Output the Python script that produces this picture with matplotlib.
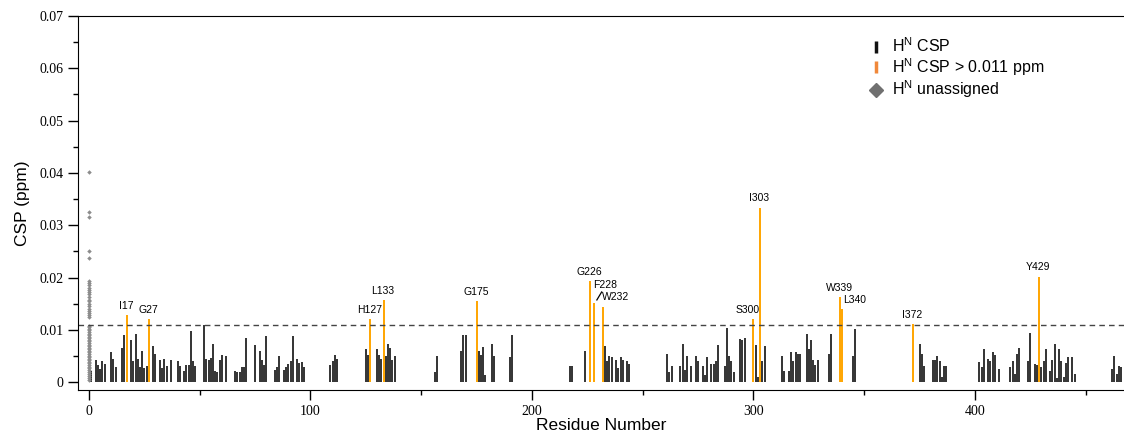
import numpy as np
import matplotlib
matplotlib.use('Agg')
import matplotlib.pyplot as plt
import matplotlib.transforms as mtransforms
from matplotlib.lines import Line2D
from matplotlib.ticker import MultipleLocator, FuncFormatter

# residues below the threshold (black bars)
black_res = [1, 3, 4, 5, 6, 7, 10, 11, 12, 15, 16,
             19, 20, 21, 22, 23, 24, 25, 26, 29, 30, 32, 33, 34, 35, 37, 40, 41,
             43, 44, 45, 46, 47, 48, 52, 53, 54, 55, 56, 57, 58, 59, 60, 62,
             66, 67, 68, 69, 70, 71, 75, 77, 78, 79, 80, 84, 85, 86,
             88, 89, 90, 91, 92, 94, 95, 96, 97, 109, 110, 111, 112,
             125, 126, 130, 131, 132, 134, 135, 136, 137, 138, 156, 157,
             168, 169, 170, 176, 177, 178, 179, 182, 183, 190, 191,
             217, 218, 224, 233, 234, 235, 236, 238, 239, 240, 241, 243, 244,
             261, 262, 263, 267, 268, 269, 270, 272, 274, 275, 277, 278, 279,
             281, 282, 283, 284, 287, 288, 289, 290, 291, 294, 295, 296,
             301, 302, 304, 305, 313, 314, 316, 317, 318, 319, 320, 321,
             324, 325, 326, 327, 328, 329, 334, 335, 345, 346,
             375, 376, 377, 381, 382, 383, 384, 385, 386, 387,
             402, 403, 404, 406, 407, 408, 409, 411, 416, 417, 418, 419, 420,
             424, 425, 427, 428, 430, 431, 432, 434, 435, 436, 437, 438, 439,
             440, 441, 442, 444, 445, 462, 463, 464, 465, 466]
black_csp = [0.0022, 0.0042, 0.0033, 0.0025, 0.0040, 0.0035, 0.0058, 0.0044, 0.0030, 0.0066, 0.0090,
             0.0080, 0.0040, 0.0092, 0.0045, 0.0030, 0.0060, 0.0028, 0.0031, 0.0069, 0.0055,
             0.0043, 0.0028, 0.0045, 0.0031, 0.0042, 0.0040, 0.0031,
             0.0021, 0.0033, 0.0033, 0.0098, 0.0040, 0.0032, 0.0110, 0.0045, 0.0043, 0.0047,
             0.0073, 0.0021, 0.0019, 0.0042, 0.0052, 0.0050,
             0.0022, 0.0020, 0.0020, 0.0030, 0.0030, 0.0084, 0.0072, 0.0060, 0.0043, 0.0033,
             0.0089, 0.0023, 0.0030, 0.0050,
             0.0024, 0.0030, 0.0035, 0.0040, 0.0089, 0.0044, 0.0036, 0.0038, 0.0029,
             0.0033, 0.0041, 0.0052, 0.0044,
             0.0063, 0.0052, 0.0064, 0.0052, 0.0045, 0.0050, 0.0073, 0.0065, 0.0043, 0.0050,
             0.0020, 0.0050,
             0.0060, 0.0090, 0.0090, 0.0060, 0.0052, 0.0067, 0.0013, 0.0073, 0.0050, 0.0048, 0.0090,
             0.0031, 0.0031, 0.0060, 0.0069, 0.0041, 0.0050, 0.0048, 0.0043, 0.0027, 0.0049,
             0.0043, 0.0041, 0.0035,
             0.0054, 0.0020, 0.0031, 0.0031, 0.0073, 0.0024, 0.0050, 0.0031, 0.0050, 0.0041,
             0.0031, 0.0014, 0.0049,
             0.0035, 0.0034, 0.0041, 0.0071, 0.0031, 0.0104, 0.0050, 0.0041, 0.0020,
             0.0082, 0.0080, 0.0085,
             0.0071, 0.0010, 0.0041, 0.0069, 0.0050, 0.0022, 0.0022, 0.0058, 0.0041, 0.0057,
             0.0054, 0.0054,
             0.0092, 0.0064, 0.0081, 0.0043, 0.0033, 0.0043, 0.0054, 0.0092, 0.0050, 0.0101,
             0.0073, 0.0054, 0.0031, 0.0043, 0.0043, 0.0050, 0.0041, 0.0010, 0.0032, 0.0032,
             0.0038, 0.0030, 0.0064, 0.0044, 0.0041, 0.0058, 0.0052, 0.0025, 0.0030, 0.0041,
             0.0015, 0.0055, 0.0065,
             0.0041, 0.0095, 0.0034, 0.0033, 0.0029, 0.0041, 0.0064, 0.0021, 0.0043, 0.0074,
             0.0009, 0.0064, 0.0041,
             0.0010, 0.0036, 0.0049, 0.0048, 0.0015, 0.0025, 0.0050, 0.0016, 0.0031, 0.0030]

# residues above 0.011 ppm (orange, labelled)
hi_res = [17, 27, 127, 133, 175, 226, 228, 232, 300, 303, 339, 340, 372, 429]
hi_csp = [0.0128, 0.0120, 0.0120, 0.0157, 0.0155, 0.0194, 0.0152, 0.0143,
          0.0120, 0.0334, 0.0163, 0.0140, 0.0111, 0.0202]
hi_labels = ['I17', 'G27', 'H127', 'L133', 'G175', 'G226', 'F228', 'W232',
             'S300', 'I303', 'W339', 'L340', 'I372', 'Y429']

# unassigned peaks, all drawn at residue 0
unassigned = [0.0402, 0.0326, 0.0315, 0.0250, 0.0237,
              0.0193, 0.0189, 0.0185, 0.0181, 0.0177, 0.0172, 0.0168, 0.0163, 0.0158,
              0.0155, 0.0150, 0.0146, 0.0141, 0.0137, 0.0133, 0.0128, 0.0125,
              0.0108, 0.0105, 0.0102, 0.0099, 0.0096, 0.0093, 0.0090, 0.0087, 0.0084,
              0.0081, 0.0078, 0.0075, 0.0072, 0.0069, 0.0066, 0.0063, 0.0060, 0.0057,
              0.0054, 0.0051, 0.0048, 0.0045, 0.0042, 0.0039, 0.0036, 0.0033, 0.0030,
              0.0027, 0.0024, 0.0020, 0.0016, 0.0012, 0.0008, 0.0004]

threshold = 0.011

# label placement (offset in points, alignment)
label_pos = {'F228': (-0.5, 13, 'left', 'center'),
             'W232': (-0.5, 7.5, 'left', 'center'),
             'L340': (0.5, 6.5, 'left', 'center'),
             'S300': (-4, 3, 'center', 'bottom')}

plt.rcParams['font.family'] = ['Liberation Sans', 'DejaVu Sans']

fig = plt.figure(figsize=(11.24, 4.37), dpi=100)
ax = fig.add_axes([0.0694, 0.1076, 0.9306, 0.8558])

ax.vlines(black_res, 0, black_csp, color='#1a1a1a', lw=1.25)
ax.vlines(hi_res, 0, hi_csp, color='#FFA500', lw=1.4)
ax.plot(np.zeros(len(unassigned)), unassigned, 'D', ms=2.3, color='#8c8c8c', mec='none')
ax.axhline(threshold, color='#444444', lw=1, ls=(0, (4, 3)))

for r, h, lab in zip(hi_res, hi_csp, hi_labels):
    dx, dy, ha, va = label_pos.get(lab, (-0.5, 3, 'center', 'bottom'))
    ax.annotate(lab, (r, h), xytext=(dx, dy), textcoords='offset points',
                ha=ha, va=va, fontsize=7.5)

# little slash next to W232
i = hi_labels.index('W232')
tr = fig.dpi_scale_trans + mtransforms.ScaledTranslation(hi_res[i], hi_csp[i], ax.transData)
ax.plot([-0.06, -0.012], [0.075, 0.155], color='black', lw=0.9, transform=tr, clip_on=False)

ax.set_xlim(-4.97, 467.3)
ax.set_ylim(-0.00147, 0.07)
ax.xaxis.set_major_locator(MultipleLocator(100))
ax.xaxis.set_minor_locator(MultipleLocator(50))
ax.yaxis.set_major_locator(MultipleLocator(0.01))
ax.yaxis.set_minor_locator(MultipleLocator(0.005))
ax.yaxis.set_major_formatter(FuncFormatter(lambda v, p: '0' if abs(v) < 1e-9 else '%.2f' % v))
ax.tick_params(which='major', direction='out', length=7, width=1)
ax.tick_params(which='minor', direction='out', length=3.5, width=1)
for t in ax.get_xticklabels() + ax.get_yticklabels():
    t.set_fontfamily('Liberation Serif')
    t.set_fontsize(10)
ax.spines['right'].set_visible(False)

ax.set_xlabel('Residue Number', fontsize=12.5, labelpad=0)
ax.set_ylabel('CSP (ppm)', fontsize=12.5, labelpad=7)

handles = [Line2D([], [], ls='none', marker='|', ms=9, mew=2.5, color='#111111'),
           Line2D([], [], ls='none', marker='|', ms=9, mew=2.5, color='#F0883A'),
           Line2D([], [], ls='none', marker='D', ms=7, color='#707070')]
names = [r'H$^{\mathregular{N}}$ CSP', r'H$^{\mathregular{N}}$ CSP > 0.011 ppm',
         r'H$^{\mathregular{N}}$ unassigned']
ax.legend(handles, names, loc='upper left', bbox_to_anchor=(0.749, 0.962), frameon=False,
          fontsize=11.5, handlelength=1.0, handletextpad=0.5, labelspacing=0.05,
          borderaxespad=0)

fig.savefig('out.png', dpi=100)
